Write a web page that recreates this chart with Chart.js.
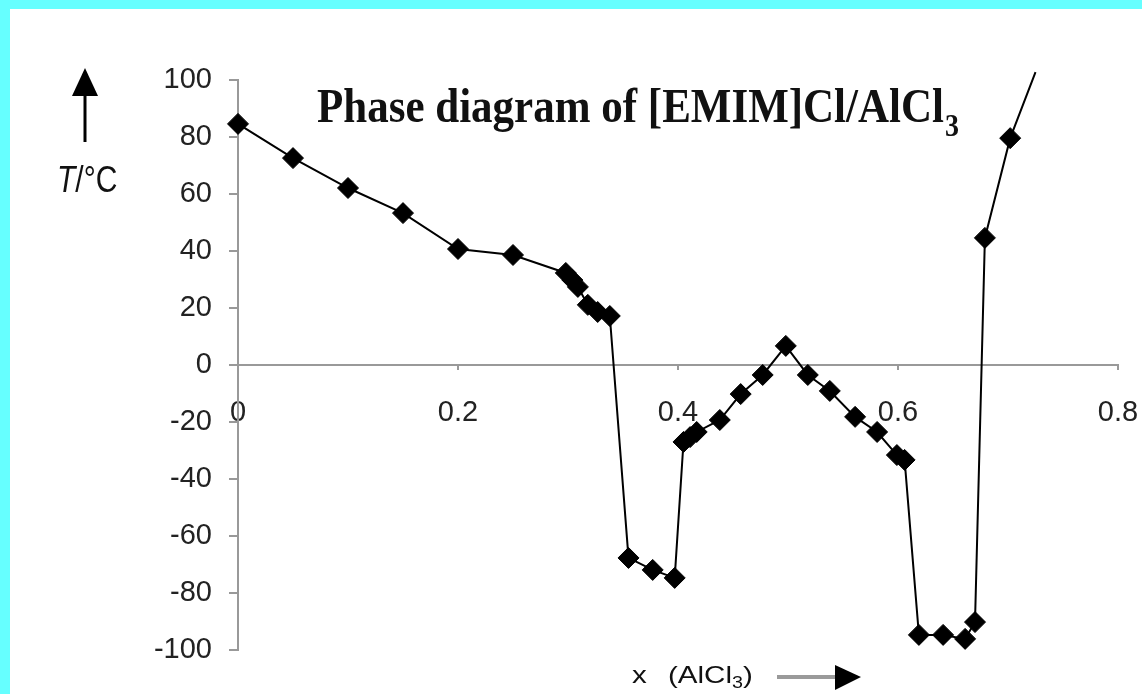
<!DOCTYPE html>
<html>
<head>
<meta charset="utf-8">
<script src="https://cdn.jsdelivr.net/npm/chart.js@4.4.0/dist/chart.umd.min.js"></script>
<style>
  html, body { margin: 0; padding: 0; background: #66ffff; }
  #frame { position: absolute; left: 10px; top: 9px; width: 1132px; height: 685px; background: #fff; }
  #wrap { position: absolute; left: 0; top: 0; width: 1142px; height: 694px; }
</style>
</head>
<body>
<div id="frame"></div>
<div id="wrap"><canvas id="phase" width="1142" height="694"></canvas></div>
<script>
// mole fraction of AlCl3 and melting / glass temperature (deg C)
var xAlCl3 = [0, 0.05, 0.1, 0.15, 0.2, 0.25, 0.298, 0.304, 0.309, 0.318, 0.327, 0.338,
  0.355, 0.377, 0.397, 0.405, 0.411, 0.417, 0.438, 0.457, 0.477, 0.498, 0.518, 0.538,
  0.561, 0.581, 0.599, 0.606, 0.619, 0.641, 0.661, 0.67, 0.679, 0.702, 0.725];
var tempC = [84.6, 72.6, 62.1, 53.3, 40.7, 38.6, 32.3, 29.8, 27.4, 21.1, 18.6, 17.2,
  -67.7, -71.9, -74.7, -27, -25.3, -23.5, -19.3, -10.2, -3.5, 6.7, -3.5, -9.1,
  -18.2, -23.5, -31.6, -33.3, -94.7, -94.7, -96.1, -90.2, 44.6, 79.6, 102.8];
// the last point only continues the line past the top of the plot (no marker)

var xTicks = [0, 0.2, 0.4, 0.6, 0.8];
var yTicks = [-100, -80, -60, -40, -20, 0, 20, 40, 60, 80, 100];

var points = xAlCl3.map(function(x, i) { return {x: x, y: tempC[i]}; });

function stretchText(ctx, str, x, y, font, sx, sy) {
  ctx.save();
  ctx.translate(x, y);
  ctx.scale(sx, sy);
  ctx.font = font;
  ctx.fillText(str, 0, 0);
  var w = ctx.measureText(str).width * sx;
  ctx.restore();
  return x + w;
}

// title, axis captions and the two arrows of the original figure
var decorations = {
  id: 'decorations',
  afterDraw: function(chart) {
    var ctx = chart.ctx;
    ctx.save();
    ctx.fillStyle = '#111';
    ctx.textBaseline = 'alphabetic';
    ctx.textAlign = 'left';

    var end = stretchText(ctx, 'Phase diagram of [EMIM]Cl/AlCl', 317, 122, 'bold 43px "Liberation Serif"', 1, 1.15);
    stretchText(ctx, '3', end + 1, 136, 'bold 28px "Liberation Serif"', 1, 1.15);

    var tEnd = stretchText(ctx, 'T', 57, 192, 'italic 30px "Liberation Sans"', 1, 1.25);
    stretchText(ctx, '/\u00b0C', tEnd, 192, '30px "Liberation Sans"', 1, 1.25);

    stretchText(ctx, 'x', 632, 683, '24px "Liberation Sans"', 1.23, 1.0);
    var p = stretchText(ctx, '(AlCl', 668, 683, '24px "Liberation Sans"', 1.23, 1.0);
    p = stretchText(ctx, '3', p, 688, '16px "Liberation Sans"', 1.23, 1.0);
    stretchText(ctx, ')', p, 683, '24px "Liberation Sans"', 1.23, 1.0);

    // up arrow next to T/°C
    ctx.strokeStyle = '#000';
    ctx.lineWidth = 3;
    ctx.beginPath();
    ctx.moveTo(85, 142);
    ctx.lineTo(85, 92);
    ctx.stroke();
    ctx.fillStyle = '#000';
    ctx.beginPath();
    ctx.moveTo(85, 68);
    ctx.lineTo(72, 96);
    ctx.lineTo(98, 96);
    ctx.closePath();
    ctx.fill();

    // right arrow after x (AlCl3)
    ctx.strokeStyle = '#9a9a9a';
    ctx.lineWidth = 4;
    ctx.beginPath();
    ctx.moveTo(777, 677);
    ctx.lineTo(838, 677);
    ctx.stroke();
    ctx.fillStyle = '#000';
    ctx.beginPath();
    ctx.moveTo(835, 665);
    ctx.lineTo(861, 677);
    ctx.lineTo(835, 690);
    ctx.closePath();
    ctx.fill();
    ctx.restore();
  }
};

Chart.defaults.font.family = '"Liberation Sans", Arial, sans-serif';
Chart.defaults.font.size = 29;
Chart.defaults.color = '#222';

var chart = new Chart('phase', {
  type: 'scatter',
  data: {
    datasets: [{
      label: 'T',
      data: points,
      showLine: true,
      borderColor: '#000',
      borderWidth: 2,
      backgroundColor: '#000',
      pointStyle: 'rectRot',
      pointRadius: function(c) { return c.dataIndex === xAlCl3.length - 1 ? 0 : 10.5; },
      pointBorderWidth: 1,
      clip: false
    }]
  },
  options: {
    responsive: false,
    animation: false,
    devicePixelRatio: 1,
    layout: { padding: { top: 80, bottom: 44, right: 24, left: 0 } },
    plugins: { legend: { display: false }, tooltip: { enabled: false } },
    scales: {
      x: {
        type: 'linear',
        min: 0,
        max: 0.8,
        position: { y: 0 },
        afterBuildTicks: function(s) { s.ticks = xTicks.map(function(v) { return {value: v}; }); },
        // tick padding would otherwise be added to the side paddings
        afterFit: function(s) { s.paddingLeft = 0; s.paddingRight = 0; },
        ticks: { padding: 27, maxRotation: 0, callback: function(v) { return String(v); } },
        grid: { drawOnChartArea: false, tickLength: 4, color: '#999', lineWidth: 2 },
        border: { display: true, color: '#999', width: 2 }
      },
      y: {
        type: 'linear',
        min: -100,
        max: 100,
        afterBuildTicks: function(s) { s.ticks = yTicks.map(function(v) { return {value: v}; }); },
        afterFit: function(s) { s.width = 238; },
        ticks: { padding: 17, callback: function(v) { return String(v); } },
        grid: { drawOnChartArea: false, tickLength: 9, color: '#999', lineWidth: 2 },
        border: { display: true, color: '#999', width: 2 }
      }
    }
  },
  plugins: [decorations]
});
</script>
</body>
</html>
